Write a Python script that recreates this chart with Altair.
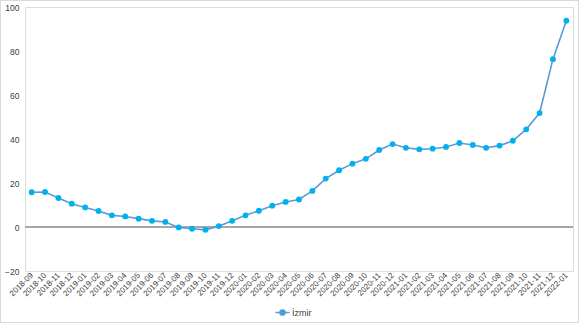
import altair as alt
import pandas as pd

months = [
    "2018-09", "2018-10", "2018-11", "2018-12",
    "2019-01", "2019-02", "2019-03", "2019-04", "2019-05", "2019-06",
    "2019-07", "2019-08", "2019-09", "2019-10", "2019-11", "2019-12",
    "2020-01", "2020-02", "2020-03", "2020-04", "2020-05", "2020-06",
    "2020-07", "2020-08", "2020-09", "2020-10", "2020-11", "2020-12",
    "2021-01", "2021-02", "2021-03", "2021-04", "2021-05", "2021-06",
    "2021-07", "2021-08", "2021-09", "2021-10", "2021-11", "2021-12",
    "2022-01",
]
izmir = [
    15.8, 15.9, 13.2, 10.6, 8.9, 7.3, 5.3, 4.8, 3.8, 2.8,
    2.3, -0.2, -0.8, -1.3, 0.4, 2.8, 5.3, 7.4, 9.7, 11.4,
    12.5, 16.4, 22.0, 25.8, 28.8, 31.0, 35.0, 37.7, 36.0, 35.3,
    35.6, 36.4, 38.2, 37.3, 36.0, 37.0, 39.2, 44.4, 51.8, 76.3,
    93.8,
]
series = ["İzmir"] * len(months)

df = pd.DataFrame({"month": months, "value": izmir, "series": series})

x_enc = alt.X(
    "month:N",
    sort=months,
    scale=alt.Scale(type="point", padding=0.5),
    axis=alt.Axis(
        title=None,
        labelAngle=315,
        labelAlign="right",
        labelBaseline="middle",
        labelFontSize=8,
        labelColor="#404040",
        labelPadding=3,
        ticks=False,
        domain=False,
        grid=False,
        labelOverlap=False,
    ),
)
y_enc = alt.Y(
    "value:Q",
    scale=alt.Scale(domain=[-20, 100], nice=False, zero=False),
    axis=alt.Axis(
        title=None,
        values=[-20, 0, 20, 40, 60, 80, 100],
        labelFontSize=8.5,
        labelColor="#404040",
        labelPadding=6,
        ticks=False,
        domain=False,
        grid=False,
    ),
)

base = alt.Chart(df)

frame = alt.Chart(df).mark_rect(fill=None, stroke="#D9D9D9", strokeWidth=1).encode(
    x=alt.value(-24.5), x2=alt.value(553.5), y=alt.value(-6.5), y2=alt.value(315.5)
)

zero = alt.Chart(df).mark_rule(color="#A6A6A6", strokeWidth=1).encode(y=alt.datum(0))

line = base.mark_line(color="#5B9BD5", strokeWidth=1.6).encode(x=x_enc, y=y_enc)

points = base.mark_point(filled=True, size=34, opacity=1, shape="circle").encode(
    x=x_enc,
    y=y_enc,
    color=alt.Color(
        "series:N",
        scale=alt.Scale(range=["#00B0F0"]),
        legend=alt.Legend(
            title=None,
            orient="none",
            legendX=252,
            legendY=300,
            direction="horizontal",
            labelFontSize=9,
            labelColor="#404040",
            symbolType="M-1.5,0L1.5,0M0.55,0A0.55,0.55 0 1,1 -0.55,0A0.55,0.55 0 1,1 0.55,0Z",
            symbolSize=90,
            symbolStrokeWidth=1.5,
            symbolStrokeColor="#5B9BD5",
            symbolFillColor="#00B0F0",
        ),
    ),
)

chart = (
    alt.layer(frame, zero, line, points)
    .properties(
        width=548,
        height=264,
        autosize=alt.AutoSizeParams(type="none"),
        padding={"left": 25, "top": 7, "right": 7, "bottom": 54},
        background="white",
    )
    .configure_view(stroke=None)
    .configure(font="Liberation Sans")
)

chart.save("out.html", embed_options={"renderer": "svg", "actions": False})
